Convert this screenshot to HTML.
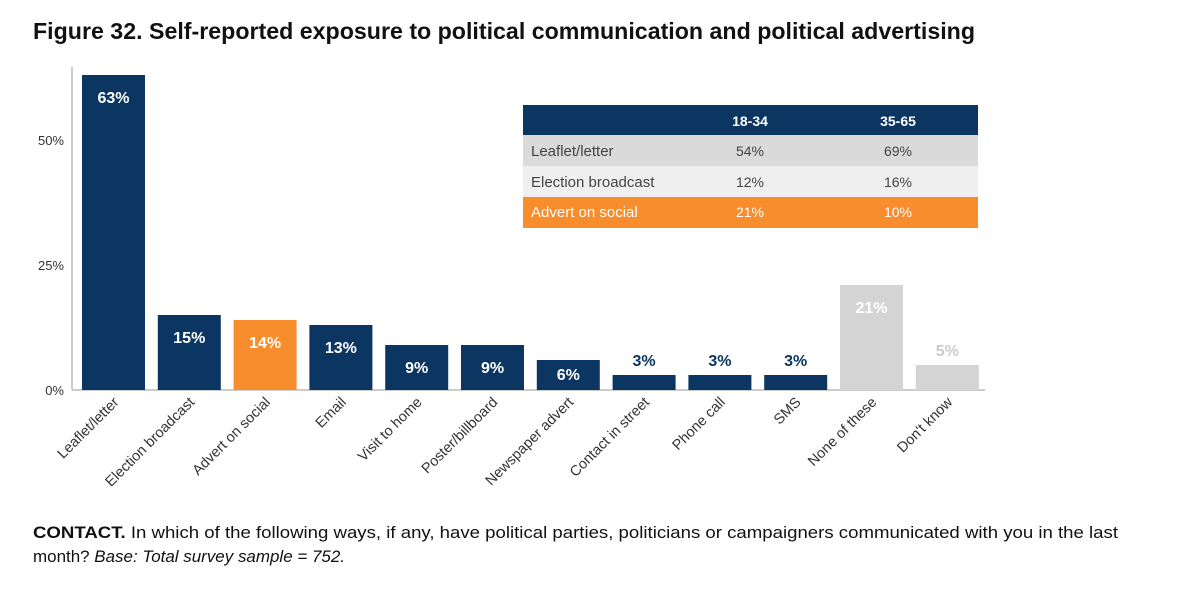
<!DOCTYPE html>
<html><head><meta charset="utf-8"><style>
body{margin:0;background:#fff;font-family:"Liberation Sans",sans-serif;}
svg{display:block}
</style></head><body>
<svg width="1200" height="596">
<text x="33" y="39" font-size="23" font-weight="bold" fill="#111" textLength="942" lengthAdjust="spacingAndGlyphs">Figure 32. Self-reported exposure to political communication and political advertising</text>
<g id="axis"></g>
<g id="bars"></g>
<g>
<rect x="523" y="105" width="455" height="30" fill="#0b3662"/>
<text x="750" y="126" font-size="14" font-weight="bold" fill="#fff" text-anchor="middle">18-34</text>
<text x="898" y="126" font-size="14" font-weight="bold" fill="#fff" text-anchor="middle">35-65</text>
<rect x="523" y="135" width="455" height="31" fill="#dadada"/>
<text x="531" y="156" font-size="15" fill="#444">Leaflet/letter</text>
<text x="750" y="156" font-size="14" fill="#444" text-anchor="middle">54%</text>
<text x="898" y="156" font-size="14" fill="#444" text-anchor="middle">69%</text>
<rect x="523" y="166" width="455" height="31" fill="#efefef"/>
<text x="531" y="187" font-size="15" fill="#444">Election broadcast</text>
<text x="750" y="187" font-size="14" fill="#444" text-anchor="middle">12%</text>
<text x="898" y="187" font-size="14" fill="#444" text-anchor="middle">16%</text>
<rect x="523" y="197" width="455" height="31" fill="#f78d2d"/>
<text x="531" y="217" font-size="15" fill="#fff">Advert on social</text>
<text x="750" y="217" font-size="14" fill="#fff" text-anchor="middle">21%</text>
<text x="898" y="217" font-size="14" fill="#fff" text-anchor="middle">10%</text>
</g>
<text x="33" y="538" font-size="17" fill="#111" textLength="1085" lengthAdjust="spacingAndGlyphs"><tspan font-weight="bold">CONTACT.</tspan> In which of the following ways, if any, have political parties, politicians or campaigners communicated with you in the last</text>
<text x="33" y="562" font-size="17" fill="#111" textLength="312" lengthAdjust="spacingAndGlyphs">month? <tspan font-style="italic">Base: Total survey sample = 752.</tspan></text>
</svg>
<script>
const categories=["Leaflet/letter","Election broadcast","Advert on social","Email","Visit to home","Poster/billboard","Newspaper advert","Contact in street","Phone call","SMS","None of these","Don't know"];
const values=[63,15,14,13,9,9,6,3,3,3,21,5];
const colorGroups=["n","n","o","n","n","n","n","n","n","n","g","g"];
const ticks=[0,25,50];
const NS="http://www.w3.org/2000/svg";
const y=v=>390-v*5;
const x=i=>82+i*75.8;
const bw=63;
const pal={n:"#0b3662",o:"#f78d2d",g:"#d4d4d4"};
function mk(t,a,p){const e=document.createElementNS(NS,t);for(const k in a)e.setAttribute(k,a[k]);p.appendChild(e);return e;}
const ax=document.getElementById('axis'),bg=document.getElementById('bars');
const yl=mk('line',{x1:72,y1:67,x2:72,y2:390,stroke:"#ccc","stroke-width":2},ax);


const xl=mk('line',{x1:72,y1:390,x2:985,y2:390,stroke:"#ccc","stroke-width":2},ax);


ticks.forEach(t=>{const e=mk('text',{x:64,y:y(t)+5,"font-size":13,fill:"#333","text-anchor":"end"},ax);e.textContent=t+"%";

});
categories.forEach((c,i)=>{
 const v=values[i],g=colorGroups[i];
 const r=mk('rect',{x:x(i),y:y(v),width:bw,height:v*5,fill:pal[g]},bg);
 
 
 const inside=v>=6;
 const h=v*5;
 const lt=mk('text',{x:x(i)+bw/2,y:inside?y(v)+Math.min(28,h*0.67):y(v)-9,"font-size":16,"font-weight":"bold","text-anchor":"middle",fill:inside?"#fff":(g==="g"?"#ccc":"#0b3662")},bg);
 lt.textContent=v+"%";
 
 
 const cx=x(i)+bw/2+6,cy=403;
 const ct=mk('text',{x:cx,y:cy,"font-size":14.5,fill:"#333","text-anchor":"end",transform:`rotate(-45 ${cx} ${cy})`},bg);
 ct.textContent=c;
 
 
});
</script>
</body></html>
